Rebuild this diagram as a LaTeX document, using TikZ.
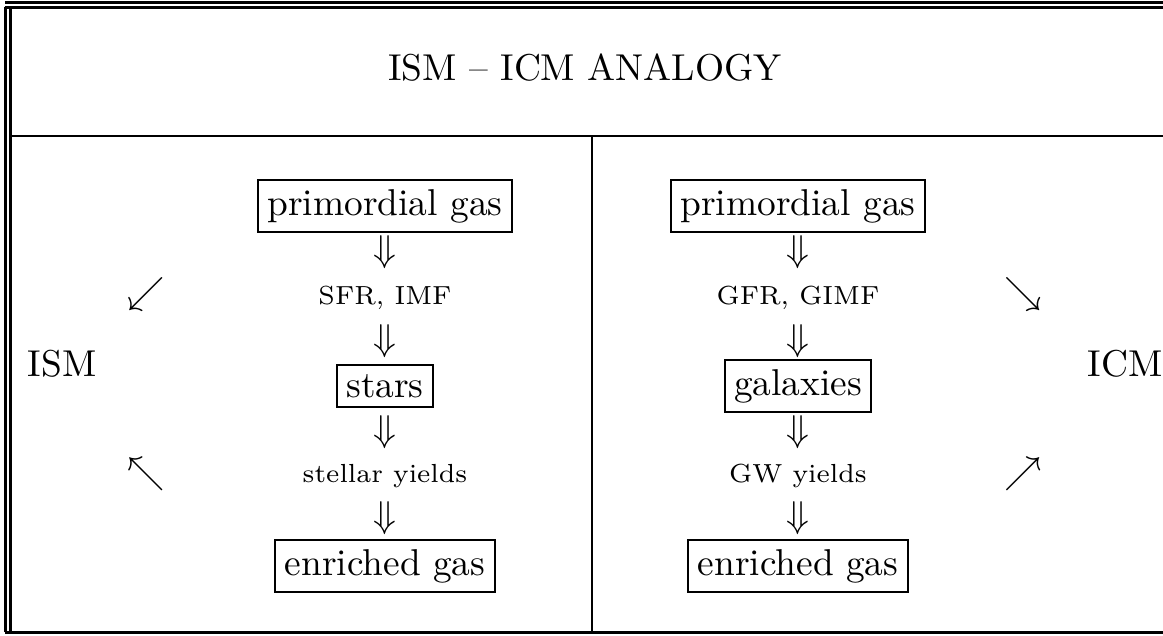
\documentclass[tikz,border=0pt]{standalone}
\usepackage{tikz}
\usepackage{amssymb}

\tikzset{
  gasbox/.style={draw, line width=0.55pt, inner sep=2.5pt},
  ratelbl/.style={font=\scriptsize, inner sep=0pt},
  dnarr/.style={inner sep=0pt},
  tabrule/.style={line width=0.55pt},
}

\begin{document}
\begin{tikzpicture}[x=0.2675pt, y=-0.2675pt]
  \useasboundingbox (0,0) rectangle (1163,635);

  % table frame
  \draw[line width=0.8pt] (5,2.5) -- (1163,2.5);
  \draw[tabrule] (4.5,7.5) -- (1163,7.5);
  \draw[tabrule] (5.5,7) -- (5.5,632);
  \draw[tabrule] (10.5,7) -- (10.5,632);
  \draw[line width=0.8pt] (4.5,632.5) -- (1163,632.5);
  \draw[tabrule] (10.5,135.7) -- (1163,135.7);
  \draw[tabrule] (591.8,135.7) -- (591.8,632);

  % title
  \node (title) at (585,68) {ISM -- ICM ANALOGY};

  % ISM side
  \node (ism) at (62,364) {ISM};
  \node (ismout) at (146,294) {$\swarrow$};
  \node (ismin) at (146,474) {$\nwarrow$};
  \node[gasbox] (lprim) at (385,206) {primordial gas};
  \node[dnarr] (la1) at (385,252) {$\Downarrow$};
  \node[ratelbl] (lsfr) at (385,298) {SFR, IMF};
  \node[dnarr] (la2) at (385,341) {$\Downarrow$};
  \node[gasbox] (lstars) at (385,386) {stars};
  \node[dnarr] (la3) at (385,432) {$\Downarrow$};
  \node[ratelbl] (lyld) at (385,476) {stellar yields};
  \node[dnarr] (la4) at (385,518) {$\Downarrow$};
  \node[gasbox] (lenr) at (385,566) {enriched gas};

  % ICM side
  \node (icm) at (1125,364) {ICM};
  \node (icmout) at (1023,294) {$\searrow$};
  \node (icmin) at (1023,474) {$\nearrow$};
  \node[gasbox] (rprim) at (798,206) {primordial gas};
  \node[dnarr] (ra1) at (798,252) {$\Downarrow$};
  \node[ratelbl] (rgfr) at (798,298) {GFR, GIMF};
  \node[dnarr] (ra2) at (798,341) {$\Downarrow$};
  \node[gasbox] (rgal) at (798,386) {galaxies};
  \node[dnarr] (ra3) at (798,432) {$\Downarrow$};
  \node[ratelbl] (ryld) at (798,476) {GW yields};
  \node[dnarr] (ra4) at (798,518) {$\Downarrow$};
  \node[gasbox] (renr) at (798,566) {enriched gas};
\end{tikzpicture}
\end{document}
